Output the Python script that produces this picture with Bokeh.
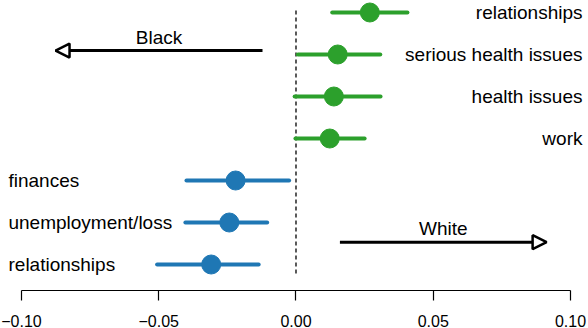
from bokeh.plotting import figure
from bokeh.models import Range1d, FixedTicker, Arrow, NormalHead, ColumnDataSource
from bokeh.core.properties import value
from bokeh.embed import file_html
from bokeh.resources import INLINE

# ---- data ----
white_labels = ["relationships", "serious health issues", "health issues", "work"]
white_est = [0.0269, 0.0152, 0.0138, 0.0123]
white_lo = [0.0132, 0.0007, -0.0005, -0.0002]
white_hi = [0.0406, 0.0307, 0.0308, 0.0250]

black_labels = ["finances", "unemployment/loss", "relationships"]
black_est = [-0.0220, -0.0243, -0.0309]
black_lo = [-0.0399, -0.0403, -0.0506]
black_hi = [-0.0025, -0.0105, -0.0136]

tick_values = [-0.10, -0.05, 0.0, 0.05, 0.10]
tick_labels = ["\u22120.10", "\u22120.05", "0.00", "0.05", "0.10"]

black_arrow = (-0.0122, -0.0876)
white_arrow = (0.0160, 0.0913)

# ---- styling ----
BLUE = "#1f77b4"
GREEN = "#2ca02c"
FONT = "Liberation Sans"

n = len(white_labels) + len(black_labels)
rows = list(range(n, 0, -1))  # top to bottom
w_rows = rows[:len(white_labels)]
b_rows = rows[len(white_labels):]

p = figure(width=588, height=328, frame_width=588, frame_height=290,
           output_backend="svg", toolbar_location=None,
           x_range=Range1d(-0.10765, 0.10656), y_range=Range1d(0.381, n + 0.2857),
           min_border_left=0, min_border_right=0, min_border_top=0, min_border_bottom=38)
p.outline_line_color = None
p.xgrid.visible = False
p.ygrid.visible = False
p.yaxis.visible = False

ax = p.xaxis[0]
ax.ticker = FixedTicker(ticks=tick_values)
ax.major_label_overrides = {v: l for v, l in zip(tick_values, tick_labels)}
ax.bounds = (tick_values[0], tick_values[-1])
ax.minor_tick_line_color = None
ax.major_tick_in = 0
ax.major_tick_out = 10
ax.axis_line_color = "black"
ax.axis_line_width = 1.2
ax.major_tick_line_color = "black"
ax.major_tick_line_width = 1.2
ax.major_label_text_font = FONT
ax.major_label_text_font_size = "16px"
ax.major_label_text_color = "black"
ax.major_label_standoff = 14

# zero dashed line
p.segment(x0=[0], x1=[0], y0=[0.786], y1=[n + 0.048], line_color="black",
          line_width=1.3, line_dash="4 3")

# white (green) series
ws = ColumnDataSource(dict(y=w_rows, est=white_est, lo=white_lo, hi=white_hi, lab=white_labels))
p.segment(x0="lo", x1="hi", y0="y", y1="y", source=ws, line_color=GREEN, line_width=4,
          line_cap="round")
p.scatter(x="est", y="y", source=ws, size=19, fill_color=GREEN, line_color=GREEN)
p.text(x=0.10437, y="y", text="lab", source=ws, text_align="right", text_baseline="middle",
       text_font=value(FONT), text_font_size="19px", text_color="black")

# black (blue) series
bs = ColumnDataSource(dict(y=b_rows, est=black_est, lo=black_lo, hi=black_hi, lab=black_labels))
p.segment(x0="lo", x1="hi", y0="y", y1="y", source=bs, line_color=BLUE, line_width=4,
          line_cap="round")
p.scatter(x="est", y="y", source=bs, size=19, fill_color=BLUE, line_color=BLUE)
p.text(x=-0.10474, y="y", text="lab", source=bs, text_align="left", text_baseline="middle",
       text_font=value(FONT), text_font_size="19px", text_color="black")

# arrows
for (x0, x1), ya, yt, lab in [(black_arrow, n - 0.905, n - 0.857, "Black"),
                              (white_arrow, 1.531, 1.602, "White")]:
    p.add_layout(Arrow(x_start=x0, x_end=x1, y_start=ya, y_end=ya, line_width=3,
                       line_color="black",
                       end=NormalHead(size=14, fill_color="white", line_color="black",
                                      line_width=2.5)))
    p.text(x=[(x0 + x1) / 2], y=[yt], text=[lab], text_align="center",
           text_baseline="bottom", text_font=value(FONT), text_font_size="19px",
           text_color="black")

open("out.html", "w").write(file_html(p, INLINE))
